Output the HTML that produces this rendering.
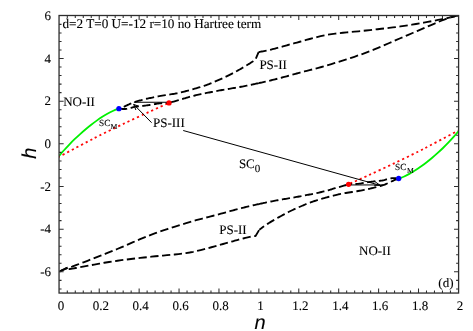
<!DOCTYPE html>
<html><head><meta charset="utf-8"><title>phase diagram</title>
<style>
html,body{margin:0;padding:0;background:#fff;}
body{width:473px;height:331px;overflow:hidden;font-family:"Liberation Serif",serif;}
svg{display:block;will-change:transform;transform:translateZ(0);}
</style></head><body>
<svg width="473" height="331" viewBox="0 0 473 331">
<defs><clipPath id="c"><rect x="59.05" y="15.10" width="399.95" height="278.35"/></clipPath></defs>
<rect width="473" height="331" fill="#fff"/>
<style>text{stroke:#000;stroke-width:0.1px;text-rendering:geometricPrecision;}</style>
<g clip-path="url(#c)">
<path d="M58.00 157.22 C58.92 156.14 61.69 152.82 63.54 150.74 C65.38 148.67 67.23 146.69 69.07 144.77 C70.92 142.84 72.76 141.00 74.61 139.22 C76.45 137.43 78.30 135.71 80.15 134.05 C81.99 132.39 83.84 130.78 85.68 129.23 C87.53 127.68 89.37 126.19 91.22 124.75 C93.06 123.31 94.91 121.93 96.75 120.62 C98.60 119.30 100.45 118.04 102.29 116.86 C104.14 115.68 105.98 114.56 107.83 113.54 C109.67 112.51 111.52 111.56 113.36 110.72 C115.21 109.88 117.98 108.86 118.90 108.49" fill="none" stroke="#00f000" stroke-width="1.8"/>
<path d="M58.00 157.30 C58.67 156.95 59.22 156.70 62.05 155.20 C64.88 153.70 70.59 150.63 75.00 148.30 C79.41 145.97 84.42 143.33 88.50 141.20 C92.58 139.07 93.48 138.48 99.50 135.50 C105.52 132.52 116.18 127.30 124.60 123.30 C133.02 119.30 142.60 114.90 150.00 111.50 C157.40 108.10 165.83 104.33 169.00 102.90" fill="none" stroke="#ff0808" stroke-width="1.8" stroke-dasharray="2.2 3.0"/>
<path d="M118.90 108.70 L119.15 108.61 L119.45 108.49 L119.81 108.37 L120.21 108.22 L120.65 108.06 L121.13 107.88 L121.64 107.68 L122.17 107.47 L122.73 107.24 L123.30 107.00 L123.92 106.73 L124.62 106.41 L125.37 106.07 L126.16 105.71 L126.96 105.33 L127.76 104.96 L128.53 104.60 L129.26 104.27 L129.92 103.96 L130.50 103.70 L130.98 103.48 L131.36 103.30 L131.67 103.15 L131.93 103.02 L132.18 102.90 L132.42 102.79 L132.69 102.68 L133.01 102.56 L133.41 102.42 L133.90 102.25 L134.49 102.06 L135.16 101.86 L135.90 101.64 L136.68 101.42 L137.49 101.19 L138.32 100.96 L139.15 100.73 L139.96 100.51 L140.75 100.30 L141.50 100.10 L142.19 99.91 L142.84 99.74 L143.46 99.57 L144.07 99.41 L144.68 99.25 L145.31 99.09 L145.97 98.93 L146.68 98.76 L147.45 98.59 L148.30 98.40 L149.22 98.20 L150.19 98.00 L151.20 97.78 L152.25 97.57 L153.35 97.34 L154.49 97.12 L155.66 96.89 L156.87 96.66 L158.12 96.43 L159.40 96.20 L160.77 95.96 L162.27 95.71 L163.85 95.46 L165.49 95.20 L167.13 94.94 L168.75 94.68 L170.30 94.44 L171.76 94.21 L173.07 93.99 L174.20 93.80 L175.12 93.64 L175.84 93.51 L176.41 93.41 L176.87 93.32 L177.27 93.24 L177.67 93.16 L178.09 93.06 L178.59 92.94 L179.21 92.79 L180.00 92.60 L180.94 92.37 L181.98 92.12 L183.10 91.84 L184.29 91.54 L185.52 91.23 L186.80 90.90 L188.10 90.56 L189.41 90.21 L190.72 89.86 L192.00 89.50 L193.30 89.13 L194.66 88.73 L196.06 88.32 L197.48 87.90 L198.89 87.47 L200.30 87.04 L201.67 86.62 L202.99 86.20 L204.24 85.79 L205.40 85.40 L206.46 85.03 L207.42 84.69 L208.31 84.36 L209.15 84.04 L209.96 83.72 L210.75 83.39 L211.57 83.06 L212.41 82.70 L213.32 82.32 L214.30 81.90 L215.36 81.45 L216.49 80.97 L217.66 80.46 L218.86 79.94 L220.08 79.41 L221.31 78.86 L222.53 78.31 L223.72 77.77 L224.89 77.23 L226.00 76.70 L227.07 76.18 L228.11 75.67 L229.12 75.16 L230.12 74.64 L231.11 74.13 L232.08 73.62 L233.05 73.10 L234.03 72.57 L235.01 72.04 L236.00 71.50 L237.01 70.94 L238.05 70.37 L239.10 69.78 L240.16 69.19 L241.21 68.59 L242.24 68.00 L243.24 67.42 L244.21 66.86 L245.13 66.32 L246.00 65.80 L246.82 65.30 L247.61 64.82 L248.37 64.34 L249.10 63.88 L249.79 63.43 L250.45 63.00 L251.07 62.59 L251.66 62.20 L252.20 61.84 L252.70 61.50 L253.16 61.19 L253.57 60.89 L253.94 60.62 L254.27 60.36 L254.57 60.13 L254.83 59.92 L255.06 59.73 L255.27 59.57 L255.44 59.42 L255.60 59.30 L258.60 52.10" fill="none" stroke="#000" stroke-width="1.85" stroke-dasharray="8.29 3.55" stroke-dashoffset="-5.23"/>
<path d="M258.60 52.10 L259.19 51.99 L259.94 51.85 L260.83 51.69 L261.82 51.51 L262.89 51.31 L264.04 51.09 L265.22 50.86 L266.42 50.62 L267.62 50.36 L268.80 50.10 L269.98 49.82 L271.21 49.53 L272.47 49.21 L273.77 48.89 L275.09 48.55 L276.42 48.20 L277.75 47.85 L279.08 47.50 L280.40 47.15 L281.70 46.80 L282.89 46.47 L283.94 46.18 L284.90 45.90 L285.83 45.62 L286.81 45.32 L287.89 45.01 L289.14 44.65 L290.62 44.24 L292.38 43.76 L294.50 43.20 L296.99 42.53 L299.80 41.74 L302.88 40.87 L306.19 39.95 L309.67 38.99 L313.28 38.03 L316.96 37.09 L320.67 36.20 L324.37 35.40 L328.00 34.70 L331.62 34.11 L335.33 33.59 L339.09 33.14 L342.91 32.73 L346.76 32.36 L350.64 32.00 L354.53 31.65 L358.41 31.30 L362.27 30.92 L366.10 30.50 L369.92 30.06 L373.74 29.64 L377.57 29.21 L381.40 28.78 L385.23 28.34 L389.05 27.90 L392.87 27.43 L396.66 26.95 L400.44 26.44 L404.20 25.90 L408.02 25.32 L411.95 24.68 L415.94 24.01 L419.94 23.31 L423.88 22.61 L427.72 21.90 L431.41 21.22 L434.89 20.56 L438.10 19.95 L441.00 19.40 L443.62 18.89 L446.03 18.39 L448.25 17.92 L450.27 17.47 L452.10 17.04 L453.75 16.65 L455.22 16.30 L456.51 15.99 L457.64 15.72 L458.60 15.50" fill="none" stroke="#000" stroke-width="1.85" stroke-dasharray="8.39 3.59" stroke-dashoffset="0.27"/>
<path d="M118.90 108.70 L119.29 108.72 L119.81 108.76 L120.42 108.81 L121.10 108.86 L121.83 108.91 L122.59 108.96 L123.35 109.00 L124.09 109.02 L124.78 109.02 L125.40 109.00 L125.97 108.95 L126.52 108.89 L127.06 108.80 L127.58 108.70 L128.09 108.59 L128.59 108.48 L129.08 108.36 L129.56 108.23 L130.03 108.11 L130.50 108.00 L130.94 107.89 L131.35 107.77 L131.73 107.64 L132.10 107.52 L132.47 107.39 L132.85 107.26 L133.25 107.14 L133.68 107.02 L134.16 106.90 L134.70 106.80 L135.30 106.70 L135.94 106.62 L136.63 106.54 L137.34 106.46 L138.09 106.39 L138.85 106.32 L139.62 106.24 L140.39 106.17 L141.15 106.09 L141.90 106.00 L142.63 105.91 L143.36 105.82 L144.08 105.73 L144.80 105.64 L145.53 105.55 L146.28 105.45 L147.04 105.35 L147.83 105.24 L148.65 105.13 L149.50 105.00 L150.40 104.86 L151.34 104.70 L152.31 104.53 L153.31 104.35 L154.33 104.17 L155.35 103.99 L156.38 103.82 L157.40 103.66 L158.41 103.52 L159.40 103.40 L160.42 103.30 L161.49 103.22 L162.60 103.15 L163.72 103.10 L164.82 103.05 L165.87 103.01 L166.84 102.98 L167.70 102.95 L168.43 102.92 L169.00 102.90" fill="none" stroke="#000" stroke-width="1.85" stroke-dasharray="8.29 3.55" stroke-dashoffset="0.00"/>
<path d="M169.00 102.90 L169.83 102.66 L170.94 102.34 L172.26 101.96 L173.74 101.53 L175.31 101.08 L176.92 100.62 L178.50 100.16 L180.00 99.73 L181.35 99.33 L182.50 99.00 L183.44 98.72 L184.25 98.48 L184.94 98.26 L185.56 98.06 L186.13 97.88 L186.70 97.70 L187.28 97.52 L187.92 97.34 L188.65 97.13 L189.50 96.90 L190.46 96.65 L191.49 96.38 L192.58 96.10 L193.72 95.81 L194.90 95.51 L196.10 95.22 L197.31 94.93 L198.52 94.64 L199.72 94.36 L200.90 94.10 L202.06 93.85 L203.24 93.61 L204.41 93.37 L205.60 93.14 L206.78 92.91 L207.97 92.69 L209.15 92.47 L210.34 92.25 L211.52 92.02 L212.70 91.80 L213.87 91.58 L215.04 91.35 L216.21 91.13 L217.37 90.90 L218.54 90.68 L219.70 90.46 L220.87 90.24 L222.04 90.03 L223.22 89.81 L224.40 89.60 L225.59 89.39 L226.79 89.19 L228.00 88.99 L229.21 88.79 L230.43 88.59 L231.64 88.40 L232.84 88.20 L234.04 88.00 L235.23 87.80 L236.40 87.60 L237.57 87.39 L238.75 87.18 L239.93 86.97 L241.11 86.75 L242.28 86.54 L243.42 86.32 L244.55 86.11 L245.64 85.90 L246.69 85.70 L247.70 85.50 L248.65 85.31 L249.55 85.12 L250.40 84.94 L251.23 84.77 L252.02 84.59 L252.81 84.42 L253.61 84.25 L254.41 84.07 L255.24 83.89 L256.10 83.70 L256.98 83.51 L257.86 83.33 L258.74 83.15 L258.87 83.12" fill="none" stroke="#000" stroke-width="1.85" stroke-dasharray="8.19 3.51" stroke-dashoffset="-2.00"/>
<path d="M258.87 83.12 L259.62 82.96 L260.52 82.78 L261.44 82.58 L262.38 82.38 L263.35 82.17 L264.35 81.94 L265.40 81.70 L266.50 81.44 L267.65 81.16 L268.85 80.87 L270.07 80.57 L271.32 80.26 L272.58 79.95 L273.83 79.63 L275.08 79.32 L276.31 79.00 L277.50 78.70 L278.67 78.40 L279.83 78.10 L280.98 77.80 L282.12 77.50 L283.26 77.21 L284.40 76.91 L285.52 76.61 L286.65 76.31 L287.78 76.00 L288.90 75.70 L289.95 75.41 L290.87 75.16 L291.72 74.92 L292.55 74.68 L293.41 74.43 L294.36 74.16 L295.44 73.86 L296.70 73.50 L298.21 73.09 L300.00 72.60 L302.07 72.05 L304.36 71.46 L306.84 70.83 L309.50 70.16 L312.31 69.44 L315.26 68.67 L318.33 67.86 L321.48 66.99 L324.71 66.07 L328.00 65.10 L331.40 64.07 L334.97 62.98 L338.69 61.83 L342.51 60.63 L346.42 59.38 L350.38 58.09 L354.35 56.76 L358.32 55.40 L362.24 54.01 L366.10 52.60 L369.90 51.15 L373.68 49.64 L377.45 48.10 L381.22 46.51 L384.99 44.90 L388.77 43.26 L392.58 41.61 L396.41 39.94 L400.28 38.27 L404.20 36.60 L408.29 34.86 L412.61 33.01 L417.07 31.08 L421.59 29.13 L426.07 27.19 L430.44 25.31 L434.59 23.54 L438.45 21.92 L441.91 20.49 L444.90 19.30 L447.43 18.36 L449.59 17.62 L451.43 17.05 L452.98 16.63 L454.29 16.32 L455.40 16.10 L456.35 15.94 L457.17 15.80 L457.91 15.67 L458.60 15.50" fill="none" stroke="#000" stroke-width="1.85" stroke-dasharray="8.40 3.60" stroke-dashoffset="1.40"/>
<path d="M133.90 102.25 L169.00 102.25" fill="none" stroke="#000" stroke-width="1.0"/>
<path d="M459.60 129.98 C458.68 131.06 455.91 134.38 454.06 136.46 C452.22 138.53 450.37 140.51 448.53 142.43 C446.68 144.36 444.84 146.20 442.99 147.98 C441.15 149.77 439.30 151.49 437.45 153.15 C435.61 154.81 433.76 156.42 431.92 157.97 C430.07 159.52 428.23 161.01 426.38 162.45 C424.54 163.89 422.69 165.27 420.85 166.58 C419.00 167.90 417.15 169.16 415.31 170.34 C413.46 171.52 411.62 172.64 409.77 173.66 C407.93 174.69 406.08 175.64 404.24 176.48 C402.39 177.32 399.62 178.34 398.70 178.71" fill="none" stroke="#00f000" stroke-width="1.8"/>
<path d="M459.60 129.90 C458.93 130.25 458.38 130.50 455.55 132.00 C452.72 133.50 447.01 136.57 442.60 138.90 C438.19 141.23 433.18 143.87 429.10 146.00 C425.02 148.13 424.12 148.72 418.10 151.70 C412.08 154.68 401.42 159.90 393.00 163.90 C384.58 167.90 375.00 172.30 367.60 175.70 C360.20 179.10 351.77 182.87 348.60 184.30" fill="none" stroke="#ff0808" stroke-width="1.8" stroke-dasharray="2.2 3.0"/>
<path d="M398.70 178.50 L398.45 178.59 L398.15 178.71 L397.79 178.83 L397.39 178.98 L396.95 179.14 L396.47 179.32 L395.96 179.52 L395.43 179.73 L394.87 179.96 L394.30 180.20 L393.68 180.47 L392.98 180.79 L392.23 181.13 L391.44 181.49 L390.64 181.87 L389.84 182.24 L389.07 182.60 L388.34 182.93 L387.68 183.24 L387.10 183.50 L386.63 183.72 L386.24 183.90 L385.93 184.05 L385.67 184.18 L385.42 184.30 L385.18 184.41 L384.91 184.52 L384.59 184.64 L384.19 184.78 L383.70 184.95 L383.11 185.14 L382.44 185.34 L381.70 185.56 L380.92 185.78 L380.11 186.01 L379.28 186.24 L378.45 186.47 L377.64 186.69 L376.85 186.90 L376.10 187.10 L375.41 187.29 L374.76 187.46 L374.14 187.63 L373.53 187.79 L372.92 187.95 L372.29 188.11 L371.63 188.27 L370.92 188.44 L370.15 188.61 L369.30 188.80 L368.38 189.00 L367.41 189.20 L366.40 189.42 L365.35 189.63 L364.25 189.86 L363.11 190.08 L361.94 190.31 L360.73 190.54 L359.48 190.77 L358.20 191.00 L356.83 191.24 L355.33 191.49 L353.75 191.74 L352.11 192.00 L350.47 192.26 L348.85 192.52 L347.30 192.76 L345.84 192.99 L344.53 193.21 L343.40 193.40 L342.48 193.56 L341.76 193.69 L341.19 193.79 L340.73 193.88 L340.33 193.96 L339.93 194.04 L339.51 194.14 L339.01 194.26 L338.39 194.41 L337.60 194.60 L336.66 194.83 L335.62 195.08 L334.50 195.36 L333.31 195.66 L332.07 195.97 L330.80 196.30 L329.50 196.64 L328.19 196.99 L326.88 197.34 L325.60 197.70 L324.30 198.07 L322.94 198.47 L321.54 198.88 L320.12 199.30 L318.71 199.72 L317.30 200.16 L315.93 200.58 L314.61 201.00 L313.36 201.41 L312.20 201.80 L311.14 202.17 L310.18 202.51 L309.29 202.84 L308.45 203.16 L307.64 203.48 L306.85 203.81 L306.03 204.14 L305.19 204.50 L304.28 204.88 L303.30 205.30 L302.24 205.75 L301.11 206.23 L299.94 206.74 L298.74 207.26 L297.52 207.79 L296.29 208.34 L295.07 208.89 L293.88 209.43 L292.71 209.97 L291.60 210.50 L290.53 211.02 L289.49 211.53 L288.48 212.04 L287.48 212.56 L286.49 213.07 L285.52 213.58 L284.55 214.10 L283.57 214.63 L282.59 215.16 L281.60 215.70 L280.59 216.26 L279.55 216.83 L278.50 217.42 L277.44 218.01 L276.39 218.61 L275.36 219.20 L274.36 219.78 L273.39 220.34 L272.47 220.88 L271.60 221.40 L270.79 221.89 L270.03 222.35 L269.31 222.80 L268.63 223.23 L267.98 223.65 L267.34 224.06 L266.73 224.47 L266.12 224.88 L265.51 225.28 L264.90 225.70 L264.27 226.14 L263.62 226.60 L262.96 227.07 L262.31 227.55 L261.68 228.02 L261.08 228.46 L260.53 228.88 L260.04 229.25 L259.63 229.56 L259.30 229.80" fill="none" stroke="#000" stroke-width="1.85" stroke-dasharray="8.40 3.60" stroke-dashoffset="0.00"/>
<path d="M259.30 229.80 L255.60 236.00 L255.22 236.06 L254.77 236.11 L254.25 236.18 L253.66 236.26 L253.01 236.34 L252.29 236.45 L251.50 236.57 L250.66 236.72 L249.76 236.90 L248.80 237.10 L247.76 237.34 L246.61 237.61 L245.38 237.92 L244.07 238.25 L242.73 238.59 L241.35 238.95 L239.95 239.32 L238.57 239.69 L237.21 240.05 L235.90 240.40 L234.71 240.73 L233.66 241.02 L232.70 241.30 L231.77 241.58 L230.79 241.88 L229.71 242.19 L228.46 242.55 L226.98 242.96 L225.22 243.44 L223.10 244.00 L220.61 244.67 L217.80 245.46 L214.72 246.33 L211.41 247.25 L207.93 248.21 L204.32 249.17 L200.64 250.11 L196.93 251.00 L193.23 251.80 L189.60 252.50 L185.98 253.09 L182.27 253.61 L178.51 254.06 L174.69 254.47 L170.84 254.84 L166.96 255.20 L163.07 255.55 L159.19 255.90 L155.33 256.28 L151.50 256.70 L147.72 257.13 L143.97 257.54 L140.25 257.95 L136.53 258.36 L132.81 258.78 L129.05 259.22 L125.25 259.68 L121.38 260.18 L117.44 260.71 L113.40 261.30 L109.06 261.98 L104.34 262.78 L99.37 263.66 L94.30 264.57 L89.26 265.50 L84.41 266.40 L79.87 267.23 L75.80 267.97 L72.32 268.57 L69.60 269.00 L67.68 269.25 L66.45 269.34 L65.79 269.31 L65.58 269.18 L65.71 268.98 L66.06 268.75 L66.51 268.50 L66.95 268.28 L67.25 268.10 L67.30 268.00 M67.30 268.00 L59.05 271.83" fill="none" stroke="#000" stroke-width="1.85" stroke-dasharray="8.26 3.54" stroke-dashoffset="-0.40"/>
<path d="M398.70 178.50 L398.31 178.48 L397.79 178.44 L397.18 178.39 L396.50 178.34 L395.77 178.29 L395.01 178.24 L394.25 178.20 L393.51 178.18 L392.82 178.18 L392.20 178.20 L391.63 178.25 L391.08 178.31 L390.54 178.40 L390.02 178.50 L389.51 178.61 L389.01 178.72 L388.52 178.84 L388.04 178.97 L387.57 179.09 L387.10 179.20 L386.66 179.31 L386.25 179.43 L385.87 179.56 L385.50 179.68 L385.13 179.81 L384.75 179.94 L384.35 180.06 L383.92 180.18 L383.44 180.30 L382.90 180.40 L382.30 180.50 L381.66 180.58 L380.97 180.66 L380.26 180.74 L379.51 180.81 L378.75 180.88 L377.98 180.96 L377.21 181.03 L376.45 181.11 L375.70 181.20 L374.97 181.29 L374.24 181.38 L373.52 181.47 L372.80 181.56 L372.07 181.65 L371.32 181.75 L370.56 181.85 L369.77 181.96 L368.95 182.07 L368.10 182.20 L367.20 182.34 L366.26 182.50 L365.29 182.67 L364.29 182.85 L363.27 183.03 L362.25 183.21 L361.22 183.38 L360.20 183.54 L359.19 183.68 L358.20 183.80 L357.18 183.90 L356.11 183.98 L355.00 184.05 L353.88 184.10 L352.78 184.15 L351.73 184.19 L350.76 184.22 L349.90 184.25 L349.17 184.28 L348.60 184.30" fill="none" stroke="#000" stroke-width="1.85" stroke-dasharray="8.29 3.55" stroke-dashoffset="0.00"/>
<path d="M348.60 184.30 L347.77 184.54 L346.66 184.86 L345.34 185.24 L343.86 185.67 L342.29 186.12 L340.68 186.58 L339.10 187.04 L337.60 187.47 L336.25 187.87 L335.10 188.20 L334.16 188.48 L333.35 188.72 L332.66 188.94 L332.04 189.14 L331.47 189.32 L330.90 189.50 L330.32 189.68 L329.68 189.86 L328.95 190.07 L328.10 190.30 L327.14 190.55 L326.11 190.82 L325.02 191.10 L323.88 191.39 L322.70 191.69 L321.50 191.98 L320.29 192.27 L319.08 192.56 L317.88 192.84 L316.70 193.10 L315.54 193.35 L314.36 193.59 L313.19 193.83 L312.00 194.06 L310.82 194.29 L309.63 194.51 L308.45 194.73 L307.26 194.95 L306.08 195.18 L304.90 195.40 L303.73 195.62 L302.56 195.85 L301.39 196.07 L300.23 196.30 L299.06 196.52 L297.90 196.74 L296.73 196.96 L295.56 197.17 L294.38 197.39 L293.20 197.60 L292.01 197.81 L290.81 198.01 L289.60 198.21 L288.39 198.41 L287.18 198.61 L285.96 198.80 L284.76 199.00 L283.56 199.20 L282.37 199.40 L281.20 199.60 L280.03 199.81 L278.85 200.02 L277.67 200.23 L276.49 200.45 L275.33 200.66 L274.18 200.88 L273.05 201.09 L271.96 201.30 L270.91 201.50 L269.90 201.70 L268.95 201.89 L268.05 202.08 L267.20 202.26 L266.37 202.43 L265.57 202.61 L264.79 202.78 L263.99 202.95 L263.19 203.13 L262.36 203.31 L261.50 203.50 L260.62 203.69 L259.74 203.87 L258.87 204.05" fill="none" stroke="#000" stroke-width="1.85" stroke-dasharray="8.19 3.51" stroke-dashoffset="-1.80"/>
<path d="M258.87 204.05 L258.86 204.05 L257.98 204.24 L257.08 204.43 L256.16 204.62 L255.22 204.82 L254.25 205.03 L253.25 205.26 L252.20 205.50 L251.10 205.76 L249.95 206.04 L248.75 206.33 L247.53 206.63 L246.28 206.94 L245.02 207.25 L243.77 207.57 L242.52 207.88 L241.29 208.20 L240.10 208.50 L238.93 208.80 L237.77 209.10 L236.62 209.40 L235.48 209.70 L234.34 209.99 L233.20 210.29 L232.08 210.59 L230.95 210.89 L229.82 211.20 L228.70 211.50 L227.65 211.79 L226.73 212.04 L225.88 212.28 L225.05 212.52 L224.19 212.77 L223.24 213.04 L222.16 213.34 L220.90 213.70 L219.39 214.11 L217.60 214.60 L215.53 215.15 L213.24 215.74 L210.76 216.37 L208.10 217.04 L205.29 217.76 L202.34 218.53 L199.27 219.34 L196.12 220.21 L192.89 221.13 L189.60 222.10 L186.20 223.13 L182.63 224.22 L178.91 225.37 L175.09 226.57 L171.18 227.82 L167.22 229.11 L163.25 230.44 L159.28 231.80 L155.36 233.19 L151.50 234.60 L147.70 236.06 L143.90 237.59 L140.11 239.16 L136.32 240.78 L132.53 242.42 L128.73 244.08 L124.93 245.74 L121.10 247.39 L117.26 249.01 L113.40 250.60 L109.37 252.22 L105.08 253.92 L100.65 255.66 L96.18 257.41 L91.76 259.13 L87.49 260.78 L83.48 262.32 L79.83 263.71 L76.63 264.92 L74.00 265.90 L71.99 266.62 L70.54 267.10 L69.55 267.39 L68.91 267.52 L68.53 267.55 L68.31 267.53 L68.15 267.50 L67.94 267.50 L67.59 267.58 L67.00 267.80 L66.21 268.13 L65.34 268.53 L64.43 268.98 L63.51 269.45 L62.59 269.93 L61.70 270.41 L60.88 270.85 L60.15 271.25 L59.53 271.58 L59.05 271.83" fill="none" stroke="#000" stroke-width="1.85" stroke-dasharray="8.40 3.60" stroke-dashoffset="2.10"/>
<path d="M383.70 184.95 L348.60 184.95" fill="none" stroke="#000" stroke-width="1.0"/>
</g>
<circle cx="118.90" cy="108.70" r="2.65" fill="#0000ff"/>
<circle cx="169.00" cy="102.90" r="2.65" fill="#ff0000"/>
<circle cx="398.70" cy="178.50" r="2.65" fill="#0000ff"/>
<circle cx="348.60" cy="184.30" r="2.65" fill="#ff0000"/>
<path d="M183.2 130.5 L380.3 185.4 M374.6 181.4 L380.3 185.4 L374.2 185.3" fill="none" stroke="#000" stroke-width="1.0"/>
<path d="M151.6 122.7 L133.7 104.4 M135.9 110.0 L133.7 104.4 L138.9 106.3" fill="none" stroke="#000" stroke-width="1.0"/>
<rect x="59.05" y="15.50" width="399.55" height="277.55" fill="none" stroke="#2e2e2e" stroke-width="1.3"/>
<path d="M67.30 293.05 v-2.50 M67.30 15.50 v2.50 M75.28 293.05 v-2.50 M75.28 15.50 v2.50 M83.27 293.05 v-2.50 M83.27 15.50 v2.50 M91.25 293.05 v-2.50 M91.25 15.50 v2.50 M99.23 293.05 v-4.60 M99.23 15.50 v4.60 M107.21 293.05 v-2.50 M107.21 15.50 v2.50 M115.19 293.05 v-2.50 M115.19 15.50 v2.50 M123.18 293.05 v-2.50 M123.18 15.50 v2.50 M131.16 293.05 v-2.50 M131.16 15.50 v2.50 M139.14 293.05 v-4.60 M139.14 15.50 v4.60 M147.12 293.05 v-2.50 M147.12 15.50 v2.50 M155.10 293.05 v-2.50 M155.10 15.50 v2.50 M163.09 293.05 v-2.50 M163.09 15.50 v2.50 M171.07 293.05 v-2.50 M171.07 15.50 v2.50 M179.05 293.05 v-4.60 M179.05 15.50 v4.60 M187.03 293.05 v-2.50 M187.03 15.50 v2.50 M195.01 293.05 v-2.50 M195.01 15.50 v2.50 M203.00 293.05 v-2.50 M203.00 15.50 v2.50 M210.98 293.05 v-2.50 M210.98 15.50 v2.50 M218.96 293.05 v-4.60 M218.96 15.50 v4.60 M226.94 293.05 v-2.50 M226.94 15.50 v2.50 M234.92 293.05 v-2.50 M234.92 15.50 v2.50 M242.91 293.05 v-2.50 M242.91 15.50 v2.50 M250.89 293.05 v-2.50 M250.89 15.50 v2.50 M258.87 293.05 v-4.60 M258.87 15.50 v4.60 M266.85 293.05 v-2.50 M266.85 15.50 v2.50 M274.83 293.05 v-2.50 M274.83 15.50 v2.50 M282.82 293.05 v-2.50 M282.82 15.50 v2.50 M290.80 293.05 v-2.50 M290.80 15.50 v2.50 M298.78 293.05 v-4.60 M298.78 15.50 v4.60 M306.76 293.05 v-2.50 M306.76 15.50 v2.50 M314.74 293.05 v-2.50 M314.74 15.50 v2.50 M322.73 293.05 v-2.50 M322.73 15.50 v2.50 M330.71 293.05 v-2.50 M330.71 15.50 v2.50 M338.69 293.05 v-4.60 M338.69 15.50 v4.60 M346.67 293.05 v-2.50 M346.67 15.50 v2.50 M354.65 293.05 v-2.50 M354.65 15.50 v2.50 M362.64 293.05 v-2.50 M362.64 15.50 v2.50 M370.62 293.05 v-2.50 M370.62 15.50 v2.50 M378.60 293.05 v-4.60 M378.60 15.50 v4.60 M386.58 293.05 v-2.50 M386.58 15.50 v2.50 M394.56 293.05 v-2.50 M394.56 15.50 v2.50 M402.55 293.05 v-2.50 M402.55 15.50 v2.50 M410.53 293.05 v-2.50 M410.53 15.50 v2.50 M418.51 293.05 v-4.60 M418.51 15.50 v4.60 M426.49 293.05 v-2.50 M426.49 15.50 v2.50 M434.47 293.05 v-2.50 M434.47 15.50 v2.50 M442.46 293.05 v-2.50 M442.46 15.50 v2.50 M450.44 293.05 v-2.50 M450.44 15.50 v2.50 M59.05 24.36 h2.50 M458.60 24.36 h-2.50 M59.05 32.90 h2.50 M458.60 32.90 h-2.50 M59.05 41.43 h2.50 M458.60 41.43 h-2.50 M59.05 49.96 h2.50 M458.60 49.96 h-2.50 M59.05 58.50 h4.60 M458.60 58.50 h-4.60 M59.05 67.03 h2.50 M458.60 67.03 h-2.50 M59.05 75.56 h2.50 M458.60 75.56 h-2.50 M59.05 84.10 h2.50 M458.60 84.10 h-2.50 M59.05 92.63 h2.50 M458.60 92.63 h-2.50 M59.05 101.16 h4.60 M458.60 101.16 h-4.60 M59.05 109.70 h2.50 M458.60 109.70 h-2.50 M59.05 118.23 h2.50 M458.60 118.23 h-2.50 M59.05 126.76 h2.50 M458.60 126.76 h-2.50 M59.05 135.30 h2.50 M458.60 135.30 h-2.50 M59.05 143.83 h4.60 M458.60 143.83 h-4.60 M59.05 152.36 h2.50 M458.60 152.36 h-2.50 M59.05 160.90 h2.50 M458.60 160.90 h-2.50 M59.05 169.43 h2.50 M458.60 169.43 h-2.50 M59.05 177.96 h2.50 M458.60 177.96 h-2.50 M59.05 186.50 h4.60 M458.60 186.50 h-4.60 M59.05 195.03 h2.50 M458.60 195.03 h-2.50 M59.05 203.56 h2.50 M458.60 203.56 h-2.50 M59.05 212.10 h2.50 M458.60 212.10 h-2.50 M59.05 220.63 h2.50 M458.60 220.63 h-2.50 M59.05 229.16 h4.60 M458.60 229.16 h-4.60 M59.05 237.70 h2.50 M458.60 237.70 h-2.50 M59.05 246.23 h2.50 M458.60 246.23 h-2.50 M59.05 254.76 h2.50 M458.60 254.76 h-2.50 M59.05 263.30 h2.50 M458.60 263.30 h-2.50 M59.05 271.83 h4.60 M458.60 271.83 h-4.60 M59.05 280.36 h2.50 M458.60 280.36 h-2.50 M59.05 288.90 h2.50 M458.60 288.90 h-2.50" stroke="#2e2e2e" stroke-width="1.05" fill="none"/>
<text x="60.92" y="310.1" text-anchor="middle" font-family="Liberation Serif" font-size="13" fill="#000">0</text>
<text x="100.83" y="310.1" text-anchor="middle" font-family="Liberation Serif" font-size="13" fill="#000">0.2</text>
<text x="140.74" y="310.1" text-anchor="middle" font-family="Liberation Serif" font-size="13" fill="#000">0.4</text>
<text x="180.65" y="310.1" text-anchor="middle" font-family="Liberation Serif" font-size="13" fill="#000">0.6</text>
<text x="220.56" y="310.1" text-anchor="middle" font-family="Liberation Serif" font-size="13" fill="#000">0.8</text>
<text x="260.47" y="310.1" text-anchor="middle" font-family="Liberation Serif" font-size="13" fill="#000">1</text>
<text x="300.38" y="310.1" text-anchor="middle" font-family="Liberation Serif" font-size="13" fill="#000">1.2</text>
<text x="340.29" y="310.1" text-anchor="middle" font-family="Liberation Serif" font-size="13" fill="#000">1.4</text>
<text x="380.20" y="310.1" text-anchor="middle" font-family="Liberation Serif" font-size="13" fill="#000">1.6</text>
<text x="420.11" y="310.1" text-anchor="middle" font-family="Liberation Serif" font-size="13" fill="#000">1.8</text>
<text x="460.02" y="310.1" text-anchor="middle" font-family="Liberation Serif" font-size="13" fill="#000">2</text>
<text x="51.1" y="19.93" text-anchor="end" font-family="Liberation Serif" font-size="13" fill="#000">6</text>
<text x="51.1" y="62.60" text-anchor="end" font-family="Liberation Serif" font-size="13" fill="#000">4</text>
<text x="51.1" y="105.26" text-anchor="end" font-family="Liberation Serif" font-size="13" fill="#000">2</text>
<text x="51.1" y="147.93" text-anchor="end" font-family="Liberation Serif" font-size="13" fill="#000">0</text>
<text x="51.1" y="190.60" text-anchor="end" font-family="Liberation Serif" font-size="13" fill="#000">-2</text>
<text x="51.1" y="233.26" text-anchor="end" font-family="Liberation Serif" font-size="13" fill="#000">-4</text>
<text x="51.1" y="275.93" text-anchor="end" font-family="Liberation Serif" font-size="13" fill="#000">-6</text>
<text x="62.50" y="28.30" font-family="Liberation Serif" font-size="13.2" fill="#000" >d=2 T=0 U=-12 r=10 no Hartree term</text>
<text x="63.20" y="105.90" font-family="Liberation Serif" font-size="13" fill="#000" >NO-II</text>
<text x="153.00" y="126.50" font-family="Liberation Serif" font-size="13" fill="#000" >PS-III</text>
<text x="259.40" y="68.60" font-family="Liberation Serif" font-size="13" fill="#000" >PS-II</text>
<text x="99.10" y="126.00" font-family="Liberation Serif" font-size="9.3" fill="#000" >SC<tspan font-size="7.7" dy="3.1">M</tspan></text>
<text x="238.90" y="168.20" font-family="Liberation Serif" font-size="13" fill="#000" >SC<tspan font-size="11" dy="3.5">0</tspan></text>
<text x="219.20" y="233.50" font-family="Liberation Serif" font-size="13" fill="#000" >PS-II</text>
<text x="359.00" y="255.00" font-family="Liberation Serif" font-size="13" fill="#000" >NO-II</text>
<text x="395.00" y="169.80" font-family="Liberation Serif" font-size="9.3" fill="#000" >SC<tspan font-size="7.7" dx="0.6" dy="3.4">M</tspan></text>
<text x="438.30" y="286.80" font-family="Liberation Serif" font-size="13" fill="#000" >(d)</text>
<text x="254.5" y="328.7" font-family="Liberation Sans" font-style="italic" font-size="20" fill="#000">n</text>
<text transform="translate(35.7,158.8) rotate(-90)" font-family="Liberation Sans" font-style="italic" font-size="20" fill="#000">h</text>
</svg>
</body></html>
